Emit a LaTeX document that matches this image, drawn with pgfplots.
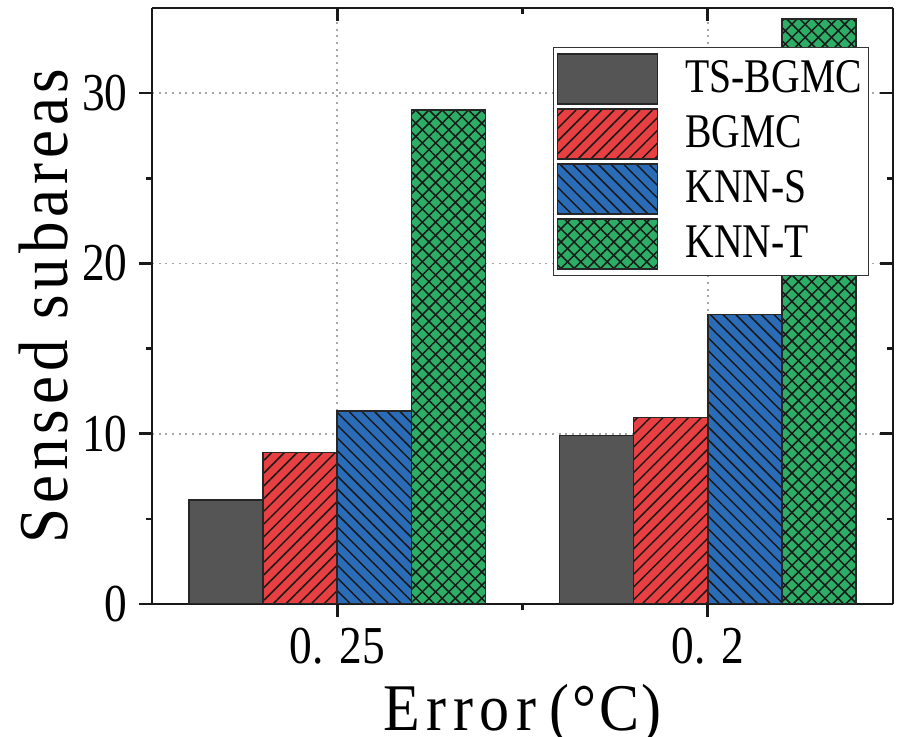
\documentclass[border=0pt]{standalone}
\usepackage{fontspec}
\setmainfont[FakeStretch=0.82]{Liberation Serif}
\newfontfamily\tickfont[FakeStretch=0.85]{Liberation Serif}
\newfontfamily\ylabfont[FakeStretch=0.9,LetterSpace=7]{Liberation Serif}
\newfontfamily\xlabfont[FakeStretch=0.9,LetterSpace=10]{Liberation Serif}
\newfontfamily\xlabfontb[FakeStretch=0.9,LetterSpace=4]{Liberation Serif}
\usepackage{pgfplots}
\pgfplotsset{compat=1.18}
\usetikzlibrary{patterns.meta}
\definecolor{cgray}{RGB}{85,85,85}
\definecolor{cred}{RGB}{232,64,66}
\definecolor{cblue}{RGB}{42,108,184}
\definecolor{cgreen}{RGB}{44,174,102}
\pgfplotsset{myleg/.style={legend image code/.code={\path (0pt,-8pt) (37pt,8pt);\draw[##1] (0pt,-7.5pt) rectangle (30pt,7.5pt);}}}
\begin{document}
\begin{tikzpicture}
\useasboundingbox (-45.6pt,-39.9pt) rectangle (225pt,181.2pt);
\begin{axis}[
  at={(0,0)}, anchor=south west, scale only axis,
  width=222.3pt, height=178.8pt,
  xmin=-0.5, xmax=1.5, ymin=0, ymax=35,
  axis x line*=bottom, axis y line*=left,
  axis line style={line width=0.8pt, black!90},
  tick align=outside, major tick length=3.8pt, minor tick length=1.9pt,
  tick style={line width=0.8pt, black!90},
  xtick={0,1}, xticklabels={0.\hspace{0.3em}25, 0.\hspace{0.3em}2}, minor xtick={0.5},
  ytick={0,10,20,30}, minor ytick={5,15,25},
  tick label style={font=\tickfont\fontsize{16}{19}\selectfont},
  /pgf/number format/assume math mode=true,
  grid=major, grid style={dash pattern=on 0.6pt off 1.4pt, gray!70, line width=0.5pt},
  ybar=0pt, bar width=0.2,
  ylabel={Sensed subareas}, xlabel={Error\hspace{4pt}{\xlabfontb(°C)}},
  ylabel style={font=\ylabfont\fontsize{21}{24}\selectfont, at={(axis description cs:-0.147,0.5)}, anchor=center},
  xlabel style={font=\xlabfont\fontsize{20}{23}\selectfont, at={(axis description cs:0.5,-0.212)}, anchor=base},
  legend style={at={(rel axis cs:0.541,0.935)}, anchor=north west, draw=black!80, line width=0.4pt, fill=white,
    font=\fontsize{14.5}{17}\selectfont, inner xsep=0.9pt, inner ysep=1.2pt,
    nodes={inner sep=1.2pt}},
  legend cell align=left,
]
\addplot[bar shift=-0.3, fill=cgray, draw=black!85, line width=0.5pt, myleg]
  coordinates {(0,6.1) (1,9.9)};
\addplot[bar shift=-0.1, fill=cred, draw=black!85, line width=0.5pt, myleg,
  postaction={pattern={Lines[angle=45,distance=2.7pt,line width=0.45pt]}, pattern color=black!90}]
  coordinates {(0,8.9) (1,10.95)};
\addplot[bar shift=0.1, fill=cblue, draw=black!85, line width=0.5pt, myleg,
  postaction={pattern={Lines[angle=-45,distance=2.7pt,line width=0.45pt]}, pattern color=black!90}]
  coordinates {(0,11.35) (1,17.0)};
\addplot[bar shift=0.3, fill=cgreen, draw=black!85, line width=0.5pt, myleg,
  postaction={pattern={Lines[angle=45,distance=2.8pt,line width=0.45pt]}, pattern color=black!90},
  postaction={pattern={Lines[angle=-45,distance=2.8pt,line width=0.45pt]}, pattern color=black!90}]
  coordinates {(0,29.0) (1,34.35)};
\legend{TS-BGMC, BGMC, KNN-S, KNN-T}
\end{axis}
\begin{axis}[
  at={(0,0)}, anchor=south west, scale only axis,
  width=222.3pt, height=178.8pt,
  xmin=-0.5, xmax=1.5, ymin=0, ymax=35,
  axis x line*=top, axis y line*=right,
  axis line style={line width=0.8pt, black!90},
  tick align=inside, major tick length=3.8pt, minor tick length=1.9pt,
  tick style={line width=0.8pt, black!90},
  xtick={0,1}, minor xtick={0.5}, xticklabels={},
  ytick={0,10,20,30}, minor ytick={5,15,25}, yticklabels={},
]
\end{axis}
\end{tikzpicture}
\end{document}
